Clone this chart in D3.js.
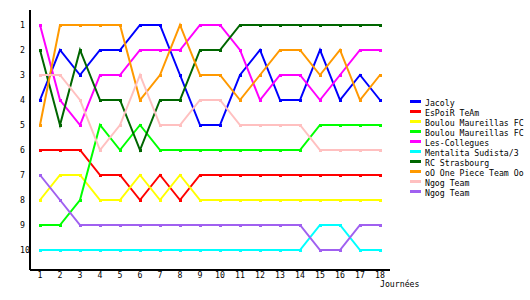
<!DOCTYPE html>
<html>
<head>
<meta charset="utf-8">
<script src="https://cdn.jsdelivr.net/npm/d3@7"></script>
<style>
  body { margin: 0; background: #fff; }
  text { font-family: "DejaVu Sans Mono", monospace; font-size: 8.2px; fill: #000; }
</style>
</head>
<body>
<div id="chart"></div>
<script>
// data: ranking per round
const rounds = d3.range(1, 19);
const teams = ["Jacoly", "EsPoiR TeAm", "Boulou Maureillas FC", "Boulou Maureillas FC",
  "Les-Collegues", "Mentalita Sudista/3", "RC Strasbourg", "oO One Piece Team Oo",
  "Ngog Team", "Ngog Team"];
const colors = ["#0000ff", "#ff0000", "#ffff00", "#00ff00", "#ff00ff",
  "#00ffff", "#006600", "#ff9900", "#ffc0c0", "#a060f0"];
const jacoly = [4, 2, 3, 2, 2, 1, 1, 3, 5, 5, 3, 2, 4, 4, 2, 4, 3, 4];
const espoir = [6, 6, 6, 7, 7, 8, 7, 8, 7, 7, 7, 7, 7, 7, 7, 7, 7, 7];
const boulouA = [8, 7, 7, 8, 8, 7, 8, 7, 8, 8, 8, 8, 8, 8, 8, 8, 8, 8];
const boulouB = [9, 9, 8, 5, 6, 5, 6, 6, 6, 6, 6, 6, 6, 6, 5, 5, 5, 5];
const collegues = [1, 4, 5, 3, 3, 2, 2, 2, 1, 1, 2, 4, 3, 3, 4, 3, 2, 2];
const mentalita = [10, 10, 10, 10, 10, 10, 10, 10, 10, 10, 10, 10, 10, 10, 9, 9, 10, 10];
const strasbourg = [2, 5, 2, 4, 4, 6, 4, 4, 2, 2, 1, 1, 1, 1, 1, 1, 1, 1];
const onePiece = [5, 1, 1, 1, 1, 4, 3, 1, 3, 3, 4, 3, 2, 2, 3, 2, 4, 3];
const ngogA = [3, 3, 4, 6, 5, 3, 5, 5, 4, 4, 5, 5, 5, 5, 6, 6, 6, 6];
const ngogB = [7, 8, 9, 9, 9, 9, 9, 9, 9, 9, 9, 9, 9, 9, 10, 10, 9, 9];
const ranks = d3.range(1, 11);

const series = [jacoly, espoir, boulouA, boulouB, collegues, mentalita,
  strasbourg, onePiece, ngogA, ngogB].map(function (v, i) {
  return { name: teams[i], color: colors[i], values: v.map(function (r, j) { return { round: rounds[j], rank: r }; }) };
});

const width = 530, height = 300;

const svg = d3.select("#chart")
  .append("svg")
  .attr("width", width)
  .attr("height", height);

// scales
const x = d3.scaleLinear().domain([1, 18]).range([40, 380]);
const y = d3.scaleLinear().domain([1, 10]).range([25, 250]);

// axis lines
svg.append("line")
  .attr("x1", x(0.5)).attr("x2", x(0.5))
  .attr("y1", y(0.4)).attr("y2", y(10.8))
  .attr("stroke", "#000").attr("stroke-width", 2)
  .attr("shape-rendering", "crispEdges");
svg.append("line")
  .attr("x1", x(0.5)).attr("x2", x(18.5))
  .attr("y1", y(10.8)).attr("y2", y(10.8))
  .attr("stroke", "#000").attr("stroke-width", 2)
  .attr("shape-rendering", "crispEdges");

// Y tick labels
svg.append("g")
  .selectAll("text")
  .data(ranks)
  .enter()
  .append("text")
  .attr("x", 20)
  .attr("y", function (d) { return y(d); })
  .attr("dy", "0.35em")
  .text(function (d) { return d; });

// X tick labels
svg.append("g")
  .selectAll("text")
  .data(rounds)
  .enter()
  .append("text")
  .attr("x", function (d) { return x(d); })
  .attr("y", y(10.8) + 5)
  .attr("dy", "0.35em")
  .attr("text-anchor", "middle")
  .text(function (d) { return d; });

svg.append("text")
  .attr("x", 380)
  .attr("y", 284)
  .attr("dy", "0.35em")
  .text("Journées");

// lines
const line = d3.line()
  .x(function (d) { return x(d.round); })
  .y(function (d) { return y(d.rank); });

const g = svg.selectAll(".serie")
  .data(series)
  .enter()
  .append("g")
  .attr("class", "serie");

g.append("path")
  .attr("fill", "none")
  .attr("stroke", function (d) { return d.color; })
  .attr("stroke-width", 2)
  .attr("d", function (d) { return line(d.values); });

g.selectAll("rect")
  .data(function (d) { return d.values.map(function (v) { return { round: v.round, rank: v.rank, color: d.color }; }); })
  .enter()
  .append("rect")
  .attr("x", function (d) { return x(d.round) - 1.5; })
  .attr("y", function (d) { return y(d.rank) - 1.5; })
  .attr("width", 3)
  .attr("height", 3)
  .attr("fill", function (d) { return d.color; })
  .attr("shape-rendering", "crispEdges");

// legend
const legend = svg.append("g")
  .selectAll("g")
  .data(series)
  .enter()
  .append("g")
  .attr("transform", function (d, i) { return "translate(410," + (101 + i * 10) + ")"; });

legend.append("rect")
  .attr("x", 0).attr("y", -1.5)
  .attr("width", 11).attr("height", 3)
  .attr("fill", function (d) { return d.color; })
  .attr("shape-rendering", "crispEdges");

legend.append("text")
  .attr("x", 15)
  .attr("y", 2)
  .attr("dy", "0.35em")
  .text(function (d) { return d.name; });
</script>
</body>
</html>
